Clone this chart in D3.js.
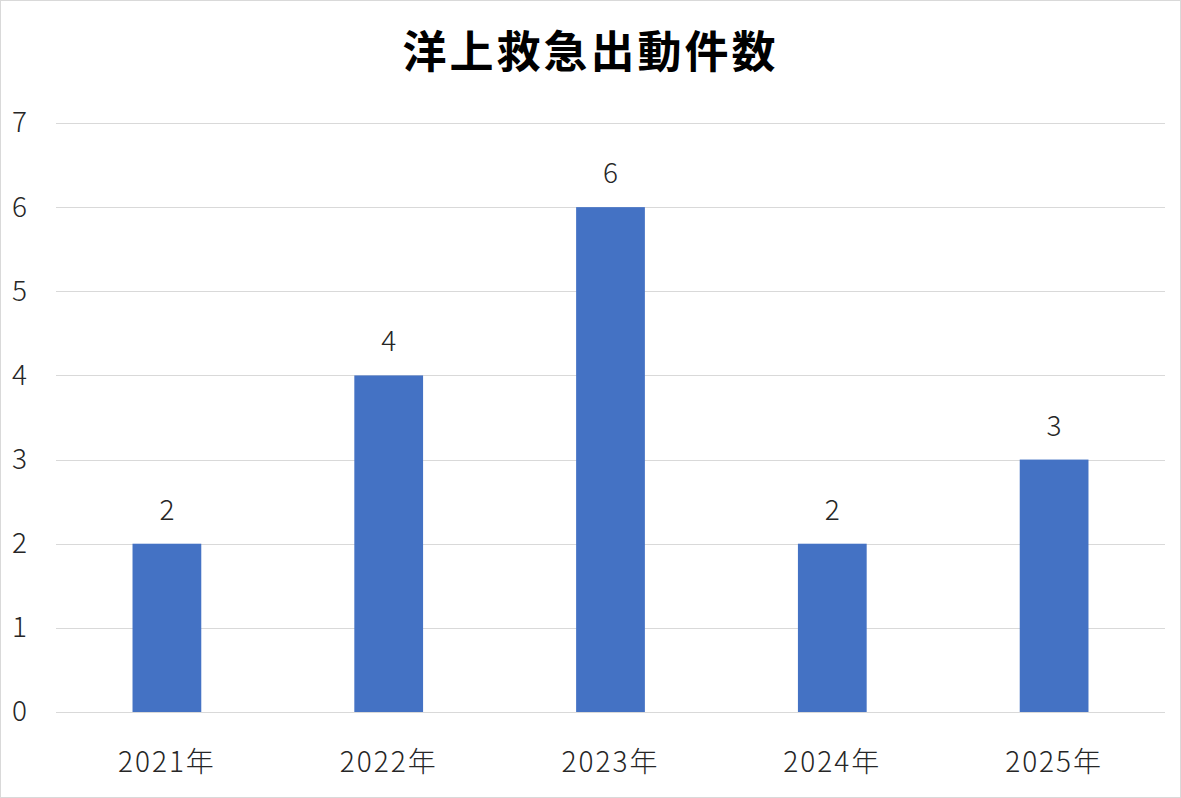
<!DOCTYPE html>
<html>
<head>
<meta charset="utf-8">
<script src="https://cdn.jsdelivr.net/npm/d3@7"></script>
<style>
  body { margin: 0; background: #fff; }
  svg text { font-family: "Noto Sans CJK JP", "Noto Sans", sans-serif; }
</style>
</head>
<body>
<div id="chart"></div>
<script>
var years = ["2021年", "2022年", "2023年", "2024年", "2025年"];
var counts = [2, 4, 6, 2, 3];
var yTicks = [0, 1, 2, 3, 4, 5, 6, 7];
var title = "洋上救急出動件数";

var w = 1181, h = 798;
var margin = { top: 123, right: 16, bottom: 86, left: 56 };

var svg = d3.select("#chart").append("svg")
    .attr("width", w)
    .attr("height", h);

// chart border
svg.append("rect")
    .attr("x", 0.5).attr("y", 0.5)
    .attr("width", w - 1).attr("height", h - 1)
    .attr("fill", "#fff")
    .attr("stroke", "#d9d9d9");

var x = d3.scaleBand()
    .domain(years)
    .range([margin.left, w - margin.right])
    .paddingInner(0.69)
    .paddingOuter(0.345);

var y = d3.scaleLinear()
    .domain([0, 7])
    .range([h - margin.bottom, margin.top]);

// gridlines
svg.append("g")
    .selectAll("line")
    .data(yTicks)
    .enter().append("line")
    .attr("x1", margin.left)
    .attr("x2", w - margin.right)
    .attr("y1", d => Math.round(y(d)) + 0.5)
    .attr("y2", d => Math.round(y(d)) + 0.5)
    .attr("stroke", "#d9d9d9")
    .attr("stroke-width", 1);

// y axis labels
var yAxis = d3.axisLeft(y).tickValues(yTicks).tickFormat(d3.format("d"))
    .tickSize(0).tickPadding(0);
var gy = svg.append("g")
    .attr("transform", "translate(27,0)")
    .call(yAxis);
gy.select(".domain").remove();
gy.selectAll("text")
    .attr("fill", "#262626")
    .style("font-size", "28px")
    .style("font-weight", "300");

// x axis labels
var xAxis = d3.axisBottom(x).tickSize(0).tickPadding(0);
var gx = svg.append("g")
    .attr("transform", "translate(0,772)")
    .call(xAxis);
gx.select(".domain").remove();
gx.selectAll("text")
    .attr("dy", 0)
    .attr("fill", "#262626")
    .style("font-size", "28px")
    .style("font-weight", "300")
    .style("letter-spacing", "2px");

// bars
svg.append("g")
    .selectAll("rect")
    .data(counts)
    .enter().append("rect")
    .attr("x", (d, i) => x(years[i]))
    .attr("y", d => y(d))
    .attr("width", x.bandwidth())
    .attr("height", d => y(0) - y(d))
    .attr("fill", "#4472c4");

// data labels
svg.append("g")
    .selectAll("text")
    .data(counts)
    .enter().append("text")
    .attr("x", (d, i) => x(years[i]) + x.bandwidth() / 2)
    .attr("y", d => y(d) - 24)
    .attr("text-anchor", "middle")
    .attr("fill", "#262626")
    .style("font-size", "28px")
    .style("font-weight", "300")
    .text(d => d);

// title
svg.append("text")
    .attr("x", w / 2)
    .attr("y", 68)
    .attr("text-anchor", "middle")
    .attr("fill", "#000")
    .style("font-size", "44px")
    .style("font-weight", "700")
    .style("letter-spacing", "3px")
    .text(title);
</script>
</body>
</html>
